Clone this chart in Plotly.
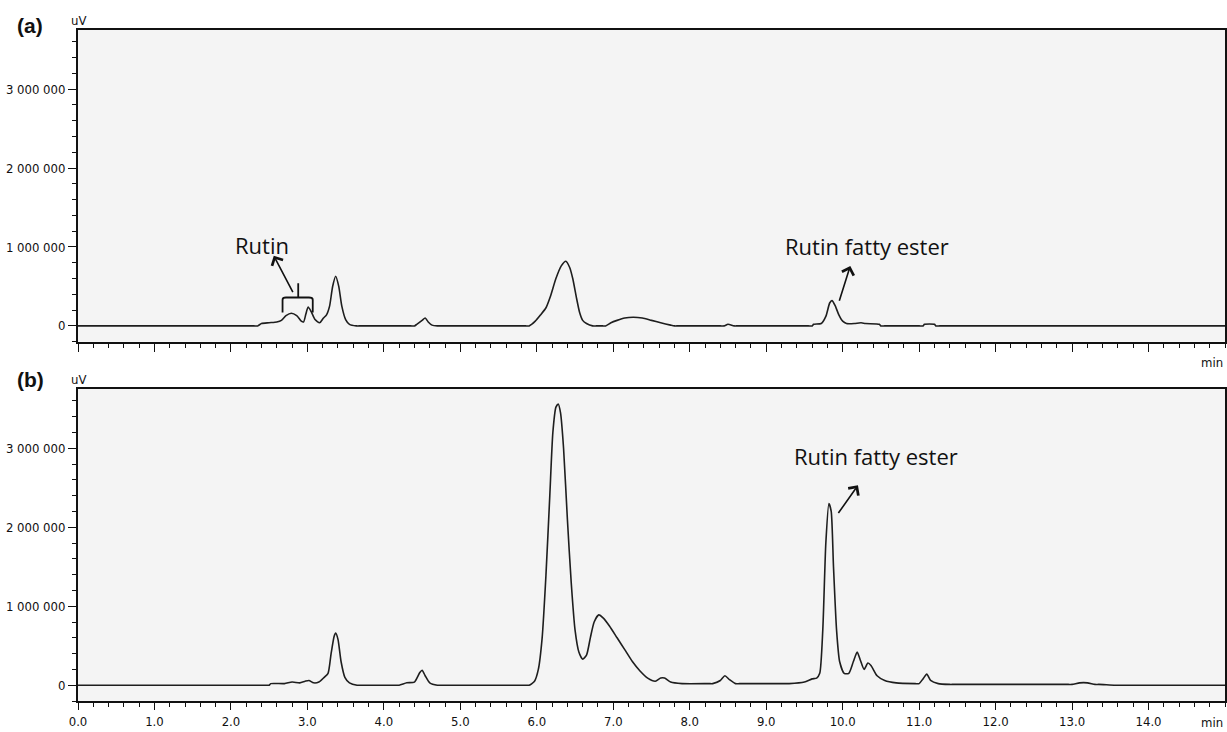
import plotly.graph_objects as go

# ---------------- data (time in min, signal in uV) ----------------
time_a = [0.0, 1.00, 2.00, 2.30, 2.35, 2.40, 2.50, 2.60, 2.66, 2.72, 2.79, 2.86, 2.92, 2.95,
          2.98, 3.01, 3.05, 3.10, 3.16, 3.21, 3.25, 3.29, 3.33, 3.37, 3.41, 3.45, 3.50, 3.55,
          3.64, 3.70, 4.35, 4.40, 4.43, 4.50, 4.54, 4.58, 4.63, 4.70, 4.75, 5.85, 5.90, 5.98,
          6.05, 6.12, 6.18, 6.25, 6.32, 6.38, 6.43, 6.47, 6.52, 6.56, 6.60, 6.65, 6.73, 6.78,
          6.86, 6.90, 6.97, 7.05, 7.15, 7.26, 7.38, 7.50, 7.62, 7.75, 7.80, 7.85, 8.40, 8.45,
          8.50, 8.58, 8.63, 9.55, 9.60, 9.62, 9.72, 9.78, 9.83, 9.86, 9.90, 9.95, 10.00,
          10.05, 10.15, 10.24, 10.30, 10.48, 10.50, 10.55, 11.00, 11.05, 11.07, 11.20, 11.22,
          11.27, 13.00, 14.90, 15.0]
signal_a = [0, 0, 0, 0, 0, 30000, 40000, 50000, 70000, 130000, 160000, 130000, 60000, 50000,
            150000, 240000, 180000, 80000, 40000, 100000, 140000, 250000, 500000, 630000,
            500000, 250000, 80000, 20000, 0, 0, 0, 0, 20000, 70000, 100000, 50000, 10000, 0,
            0, 0, 0, 60000, 140000, 230000, 380000, 600000, 760000, 820000, 740000, 600000,
            350000, 170000, 70000, 30000, 0, 0, 0, 0, 40000, 70000, 100000, 110000, 100000,
            70000, 40000, 10000, 0, 0, 0, 0, 20000, 0, 0, 0, 0, 20000, 30000, 120000, 290000,
            320000, 260000, 140000, 60000, 30000, 30000, 40000, 30000, 20000, 0, 0, 0, 0,
            20000, 20000, 0, 0, 0, 0, 0]

time_b = [0.0, 1.00, 2.00, 2.45, 2.50, 2.52, 2.70, 2.80, 2.90, 2.97, 3.02, 3.08, 3.15, 3.22,
          3.27, 3.31, 3.35, 3.37, 3.40, 3.44, 3.49, 3.55, 3.65, 3.70, 4.15, 4.20, 4.30, 4.40,
          4.47, 4.50, 4.54, 4.60, 4.70, 4.75, 5.85, 5.90, 5.97, 6.02, 6.07, 6.12, 6.17, 6.21,
          6.25, 6.28, 6.31, 6.35, 6.40, 6.45, 6.50, 6.55, 6.60, 6.65, 6.70, 6.75, 6.81, 6.87,
          6.95, 7.05, 7.15, 7.25, 7.35, 7.45, 7.55, 7.62, 7.67, 7.75, 7.90, 8.25, 8.30, 8.40,
          8.46, 8.52, 8.60, 8.65, 9.25, 9.30, 9.50, 9.60, 9.66, 9.70, 9.74, 9.78, 9.82, 9.85,
          9.88, 9.92, 9.96, 10.02, 10.08, 10.14, 10.19, 10.23, 10.28, 10.33, 10.37, 10.45,
          10.55, 10.70, 10.95, 11.00, 11.05, 11.10, 11.15, 11.25, 11.40, 11.45, 11.95, 12.00,
          12.95, 13.00, 13.10, 13.20, 13.30, 13.35, 13.55, 13.60, 14.90, 15.0]
signal_b = [0, 0, 0, 0, 0, 20000, 20000, 40000, 30000, 50000, 60000, 30000, 40000, 100000,
            150000, 400000, 620000, 660000, 580000, 300000, 100000, 30000, 0, 0, 0, 0, 30000,
            40000, 160000, 190000, 120000, 30000, 0, 0, 0, 0, 50000, 200000, 600000, 1400000,
            2400000, 3200000, 3520000, 3560000, 3450000, 3000000, 2100000, 1300000, 700000,
            420000, 330000, 380000, 600000, 800000, 890000, 850000, 750000, 600000, 450000,
            300000, 180000, 90000, 50000, 90000, 90000, 40000, 20000, 20000, 20000, 60000,
            120000, 70000, 20000, 20000, 20000, 20000, 40000, 80000, 90000, 150000, 700000,
            1800000, 2300000, 2200000, 1500000, 700000, 300000, 150000, 150000, 300000,
            420000, 320000, 200000, 280000, 250000, 120000, 60000, 30000, 20000, 20000, 80000,
            140000, 60000, 20000, 10000, 10000, 10000, 10000, 10000, 10000, 30000, 30000,
            10000, 10000, 0, 0, 0, 0]

y_tickvals = [0, 1000000, 2000000, 3000000]
y_ticktext = ["0", "1 000 000", "2 000 000", "3 000 000"]
x_tickvals = [0, 1, 2, 3, 4, 5, 6, 7, 8, 9, 10, 11, 12, 13, 14]
x_ticktext = ["0.0", "1.0", "2.0", "3.0", "4.0", "5.0", "6.0", "7.0", "8.0", "9.0",
              "10.0", "11.0", "12.0", "13.0", "14.0"]

# ---------------- figure ----------------
LINE = "#1e1e1e"
TICKFONT = dict(family="DejaVu Sans Condensed, Liberation Sans Narrow, Arial Narrow, Liberation Sans",
                size=13, color="#111111")
ANNFONT = dict(family="Open Sans, Noto Sans, sans-serif", size=22, color="#111111")

fig = go.Figure()
fig.add_trace(go.Scatter(x=time_a, y=signal_a, mode="lines", xaxis="x", yaxis="y",
                         line=dict(color=LINE, width=1.6, shape="spline", smoothing=0.6),
                         showlegend=False, hoverinfo="skip"))
fig.add_trace(go.Scatter(x=time_b, y=signal_b, mode="lines", xaxis="x2", yaxis="y2",
                         line=dict(color=LINE, width=1.6, shape="spline", smoothing=0.6),
                         showlegend=False, hoverinfo="skip"))

xcommon = dict(range=[0, 15], showgrid=False, zeroline=False, showline=True, linecolor="#111",
               linewidth=2, mirror=True, ticks="outside", ticklen=8, tickwidth=1.2,
               tickcolor="#111", tickvals=x_tickvals, ticktext=x_ticktext, tickfont=TICKFONT,
               automargin=False,
               minor=dict(dtick=0.2, tick0=0, ticks="outside", ticklen=4, tickcolor="#111",
                          tickwidth=1, showgrid=False))
ycommon = dict(range=[-200000, 3750000], showgrid=False, zeroline=False, showline=True,
               linecolor="#111", linewidth=2, mirror=True, ticks="outside", ticklen=8,
               tickwidth=1.2, tickcolor="#111", tickvals=y_tickvals, ticktext=y_ticktext,
               tickfont=TICKFONT, automargin=False,
               minor=dict(dtick=200000, tick0=0, ticks="outside", ticklen=4, tickcolor="#111",
                          tickwidth=1, showgrid=False))

fig.update_layout(
    width=1227, height=732,
    margin=dict(l=78, r=2, t=30, b=31),
    paper_bgcolor="white", plot_bgcolor="#f4f4f4",
    xaxis=dict(xcommon, domain=[0, 1], anchor="y", showticklabels=False),
    yaxis=dict(ycommon, domain=[0.5355, 1.0], anchor="x"),
    xaxis2=dict(xcommon, domain=[0, 1], anchor="y2", showticklabels=True, ticklen=7),
    yaxis2=dict(ycommon, domain=[0.0, 0.465], anchor="x2"),
)

PW = 1147.0
PH = 671.0
ann = []
# panel labels
for yy, lab in [(1.0 + 5 / PH, "<b>(a)</b>"), (0.465 + 9 / PH, "<b>(b)</b>")]:
    ann.append(dict(text=lab, xref="paper", yref="paper", x=(30 - 78) / PW, y=yy,
                    xanchor="center", yanchor="middle", showarrow=False,
                    font=dict(family="Liberation Sans, Arial", size=21, color="#111")))
for yy in [1.0 + 9 / PH, 0.465 + 9 / PH]:
    ann.append(dict(text="uV", xref="paper", yref="paper", x=0.0, y=yy,
                    xanchor="center", yanchor="middle", showarrow=False, font=TICKFONT))
ann.append(dict(text="min", xref="paper", yref="paper", x=1.0, y=0.5355 - 21 / PH,
                xanchor="right", yanchor="middle", showarrow=False, font=TICKFONT))
ann.append(dict(text="min", xref="paper", yref="paper", x=1.0, y=-21 / PH,
                xanchor="right", yanchor="middle", showarrow=False, font=TICKFONT))
# text labels
ann.append(dict(text="Rutin", xref="x", yref="y", x=2.40, y=1020000, showarrow=False,
                xanchor="center", yanchor="middle", font=ANNFONT))
ann.append(dict(text="Rutin fatty ester", xref="x", yref="y", x=10.32, y=1010000,
                showarrow=False, xanchor="center", yanchor="middle", font=ANNFONT))
ann.append(dict(text="Rutin fatty ester", xref="x2", yref="y2", x=10.44, y=2900000,
                showarrow=False, xanchor="center", yanchor="middle", font=ANNFONT))
# arrows
arrow_style = dict(text="", showarrow=True, arrowhead=4, arrowsize=1.5, arrowwidth=1.6,
                   arrowcolor="#111")
ann.append(dict(arrow_style, xref="x", yref="y", axref="x", ayref="y",
                x=2.56, y=890000, ax=2.82, ay=410000))
ann.append(dict(arrow_style, xref="x", yref="y", axref="x", ayref="y",
                x=10.10, y=760000, ax=9.95, ay=300000))
ann.append(dict(arrow_style, xref="x2", yref="y2", axref="x2", ayref="y2",
                x=10.20, y=2530000, ax=9.93, ay=2160000))
fig.update_layout(annotations=ann)

# bracket over the rutin peaks (panel a)
fig.add_shape(type="path", xref="x", yref="y", line=dict(color="#111", width=1.8),
              path="M 2.675,170000 L 2.675,330000 Q 2.675,360000 2.72,360000 "
                   "L 3.02,360000 Q 3.07,360000 3.07,330000 L 3.07,170000 "
                   "M 2.88,360000 L 2.88,540000")

fig.write_html("out.html")
